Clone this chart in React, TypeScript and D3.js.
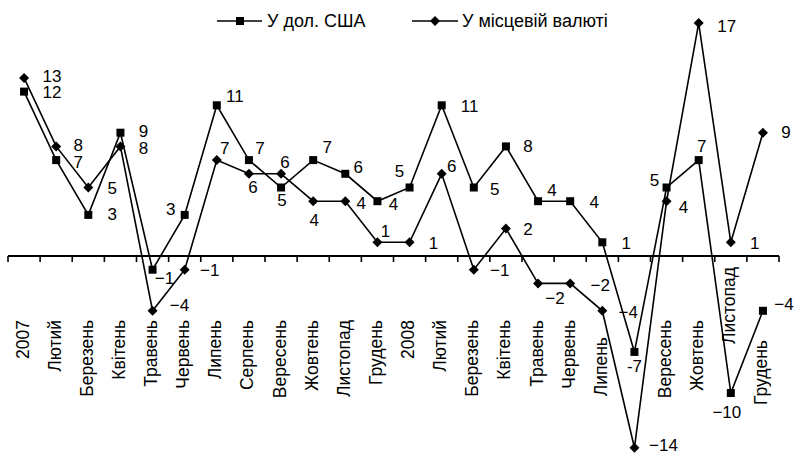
import React from 'react';
import * as d3 from 'd3';

const categories = ['2007', 'Лютий', 'Березень', 'Квітень', 'Травень', 'Червень', 'Липень', 'Серпень', 'Вересень', 'Жовтень', 'Листопад', 'Грудень', '2008', 'Лютий', 'Березень', 'Квітень', 'Травень', 'Червень', 'Липень', '', 'Вересень', 'Жовтень', 'Листопад', 'Грудень'];
const usdValues = [12, 7, 3, 9, -1, 3, 11, 7, 5, 7, 6, 4, 5, 11, 5, 8, 4, 4, 1, -7, 5, 7, -10, -4];
const localValues = [13, 8, 5, 8, -4, -1, 7, 6, 6, 4, 4, 1, 1, 6, -1, 2, -2, -2, -4, -14, 4, 17, 1, 9];
const seriesNames = ['У дол. США', 'У місцевій валюті'];

// label placement offsets (layout, not data)
const usdLabelOffsets: [number, number][] = [
  [28, 1], [22, 2], [24, 0], [23, -1], [12, 9], [-14, -5], [18, -9], [11, -12], [1, 13], [14, -13], [13, -6], [16, 3],
  [-10, -16], [28, 1], [21, 2], [22, 0], [14, -11], [24, 1], [24, 1], [0, 15], [-12, -7], [3, -14], [-4, 19], [21, -6],
];
const localLabelOffsets: [number, number][] = [
  [28, -1], [22, -1], [24, 1], [23, 2], [27, -5], [25, 1], [8, -12], [4, 14], [4, -11], [1, 19], [16, 2], [8, -11],
  [24, 1], [10, -7], [26, 1], [22, 1], [17, 15], [30, 2], [26, 2], [29, -2], [17, 6], [28, 3], [24, 1], [23, 0],
];
const categoryLabelShift: Record<number, number> = { 18: 17, 22: -53, 23: 20 };

const W = 794;
const H = 454;
const FONT = '"Liberation Sans", Arial, Helvetica, sans-serif';

function fmt(v: number, hyphen = false) {
  if (v < 0) return (hyphen ? '-' : '\u2212') + Math.abs(v);
  return String(v);
}

export default function App() {
  const idx = categories.map((_, i) => i);
  const x = d3.scaleBand<number>().domain(idx).range([8, 779]).padding(0);
  const y = d3.scaleLinear().domain([-15, 18]).range([256 + 15 * 13.7, 256 - 18 * 13.7]);
  const cx = (i: number) => (x(i) as number) + x.bandwidth() / 2;
  const line = d3.line<number>().x((_, i) => cx(i)).y((d) => y(d));
  const y0 = y(0);
  const ticks = d3.range(categories.length + 1).map((i) => 8 + i * x.bandwidth());

  const square = (px: number, py: number, key: string) => (
    <rect key={key} x={px - 4} y={py - 4} width={8} height={8} fill="#000" />
  );
  const diamond = (px: number, py: number, key: string) => (
    <path key={key} d={`M${px},${py - 5}L${px + 5},${py}L${px},${py + 5}L${px - 5},${py}Z`} fill="#000" />
  );

  return (
    <div style={{ position: 'absolute', left: 0, top: 0, width: W, height: H, background: '#fff' }}>
      <svg width={W} height={H} style={{ display: 'block', fontFamily: FONT }}>
        {/* axis */}
        <line x1={8} x2={779} y1={y0} y2={y0} stroke="#000" strokeWidth={2} />
        {ticks.map((t, i) => (
          <line key={'t' + i} x1={t} x2={t} y1={y0} y2={y0 + 6} stroke="#000" strokeWidth={1.6} />
        ))}
        {categories.map((c, i) => (
          <text
            key={'c' + i}
            transform={`translate(${cx(i) + 4.5},${320 + (categoryLabelShift[i] || 0)}) rotate(-90)`}
            textAnchor="end"
            fontSize={17.5}
            fill="#000"
          >
            {c}
          </text>
        ))}
        {/* lines */}
        <path d={line(usdValues) || ''} fill="none" stroke="#000" strokeWidth={1.6} />
        <path d={line(localValues) || ''} fill="none" stroke="#000" strokeWidth={1.6} />
        {usdValues.map((v, i) => square(cx(i), y(v), 'us' + i))}
        {localValues.map((v, i) => diamond(cx(i), y(v), 'lo' + i))}
        {/* data labels */}
        {usdValues.map((v, i) => (
          <text key={'ul' + i} x={cx(i) + usdLabelOffsets[i][0]} y={y(v) + usdLabelOffsets[i][1]} textAnchor="middle" dominantBaseline="central" fontSize={17}>
            {fmt(v, i === 19)}
          </text>
        ))}
        {localValues.map((v, i) => (
          <text key={'ll' + i} x={cx(i) + localLabelOffsets[i][0]} y={y(v) + localLabelOffsets[i][1]} textAnchor="middle" dominantBaseline="central" fontSize={17}>
            {fmt(v)}
          </text>
        ))}
        {/* legend */}
        <g>
          <line x1={217} x2={262} y1={21} y2={21} stroke="#000" strokeWidth={1.6} />
          {square(240, 21, 'lg1')}
          <text x={267} y={21} dominantBaseline="central" fontSize={18}>{seriesNames[0]}</text>
          <line x1={412} x2={458} y1={21} y2={21} stroke="#000" strokeWidth={1.6} />
          {diamond(435, 21, 'lg2')}
          <text x={462} y={21} dominantBaseline="central" fontSize={18}>{seriesNames[1]}</text>
        </g>
      </svg>
    </div>
  );
}
